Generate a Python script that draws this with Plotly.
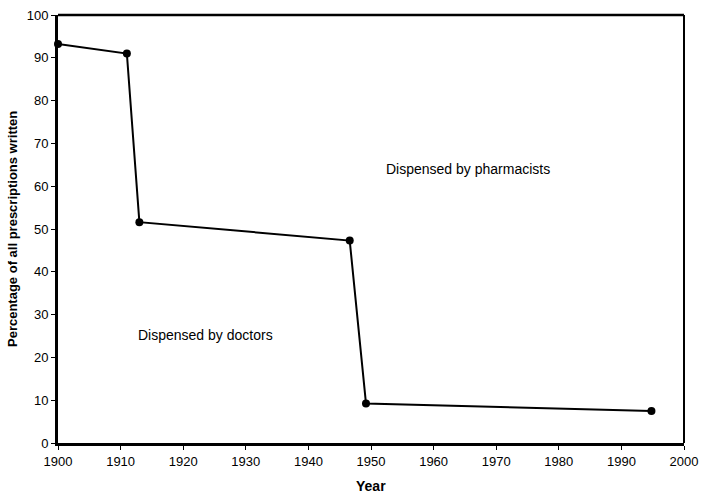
import plotly.graph_objects as go

years = [1900, 1911, 1913, 1946.6, 1949.2, 1994.8]
percent_doctors = [93.2, 91.0, 51.6, 47.3, 9.2, 7.5]
x_ticks = [1900, 1910, 1920, 1930, 1940, 1950, 1960, 1970, 1980, 1990, 2000]
y_ticks = [0, 10, 20, 30, 40, 50, 60, 70, 80, 90, 100]

fig = go.Figure()
fig.add_trace(go.Scatter(
    x=years, y=percent_doctors, mode="lines+markers",
    line=dict(color="black", width=2),
    marker=dict(color="black", size=8),
    showlegend=False, cliponaxis=False,
))

fig.add_annotation(x=1965.5, y=64, text="Dispensed by pharmacists", showarrow=False,
                   font=dict(size=14, color="black"))
fig.add_annotation(x=1923.6, y=25.2, text="Dispensed by doctors", showarrow=False,
                   font=dict(size=14, color="black"))

# axis titles
fig.add_annotation(xref="paper", yref="paper", x=0.5, y=0, yanchor="middle", yshift=-43,
                   text="<b>Year</b>", showarrow=False, font=dict(size=14, color="black"))
fig.add_annotation(xref="paper", yref="paper", x=0, y=0.5, xanchor="center", xshift=-46,
                   textangle=-90, text="<b>Percentage of all prescriptions written</b>",
                   showarrow=False, font=dict(size=13, color="black"))

# thinner top/right frame
fig.add_shape(type="line", xref="paper", yref="paper", x0=0, x1=1, y0=1, y1=1,
              line=dict(color="black", width=2.5))
fig.add_shape(type="line", xref="paper", yref="paper", x0=1, x1=1, y0=0, y1=1,
              line=dict(color="black", width=2))

fig.update_layout(
    width=701, height=493,
    margin=dict(l=58, r=17, t=15, b=50),
    plot_bgcolor="white", paper_bgcolor="white",
    font=dict(family="Liberation Sans, Arial, sans-serif", size=13, color="black"),
)
fig.update_xaxes(
    range=[1900, 2000], tickvals=x_ticks, ticktext=[str(v) for v in x_ticks],
    showgrid=False, zeroline=False, showline=True, linecolor="black", linewidth=3,
    ticks="outside", ticklen=4, tickwidth=1, tickcolor="black", automargin=False,
    tickfont=dict(size=13), ticklabeloverflow="allow",
)
fig.update_yaxes(
    range=[0, 100], tickvals=y_ticks, ticktext=[str(v) for v in y_ticks],
    showgrid=False, zeroline=False, showline=True, linecolor="black", linewidth=3,
    ticks="outside", ticklen=4, tickwidth=1, tickcolor="black", automargin=False,
    tickfont=dict(size=13), ticklabeloverflow="allow",
)

fig.write_html("out.html", config={"displayModeBar": False},
               post_script="document.body.style.margin='0';document.body.style.overflow='hidden';")
